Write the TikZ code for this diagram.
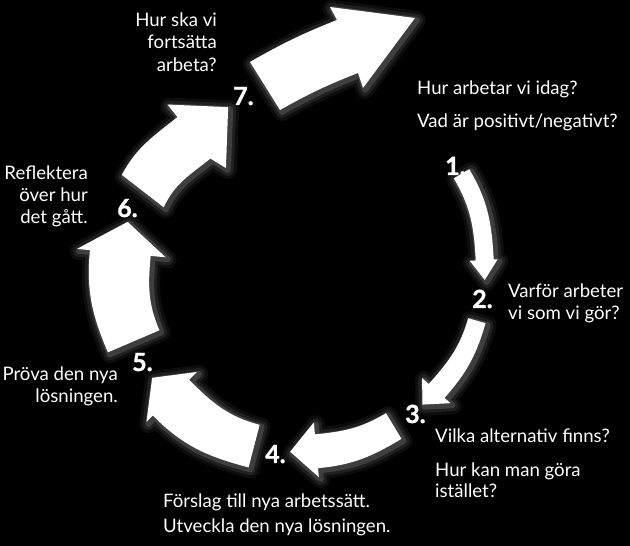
\documentclass[tikz,border=0pt]{standalone}
\usepackage{fontspec}
\setmainfont{Lato}
\newfontfamily\numfont{Lato}[BoldFeatures={FakeBold=1.2}]
\begin{document}
\begin{tikzpicture}[x=1pt,y=1pt,
  txt/.style={text=white, inner sep=0pt, font=\fontsize{18.6}{22}\selectfont},
  txtl/.style={txt, anchor=base west},
  txtr/.style={txt, anchor=base east},
  num/.style={text=white, inner sep=0pt, anchor=base west, font=\fontsize{25}{28}\numfont\bfseries},
  arrowfill/.style={fill=white, draw=none}]
\useasboundingbox (0,0) rectangle (630,546);
\fill[black] (0,0) rectangle (630,546);

\newcommand\arrowpaths[1]{%
  \begin{scope}[shift={(300,276)}]
    \path[#1] (30.8:197) to[out=-59.2,in=93.1] (3.1:194) -- (3.1:198) -- (-3.1:185) -- (3.1:170) -- (3.1:176) to[out=93.1,in=-59.2] (30.8:179) -- cycle;
    \path[#1] (-16:193) to[out=-106,in=48.5] (-41.5:193) -- (-41.5:201) -- (-47.7:182) -- (-41.5:163) -- (-41.5:172) to[out=48.5,in=-106] (-16:175) -- cycle;
    \path[#1] (-59:197) to[out=-149,in=5.2] (-84.8:199) -- (-84.8:208) -- (-93.1:182) -- (-84.8:153) -- (-84.8:165) to[out=5.2,in=-149] (-59:167) -- cycle;
    \path[#1] (-104.6:204) to[out=-194.6,in=-45.3] (-135.3:207) -- (-135.3:216) -- (-143.9:183) -- (-135.3:145) -- (-135.3:156) to[out=-45.3,in=-194.6] (-104.6:160) -- cycle;
    \path[#1] (-156.8:209) to[out=-246.8,in=-95.4] (-185.4:211) -- (-185.4:224) -- (-195.6:179) -- (-185.4:135) -- (-185.4:150) to[out=-95.4,in=-246.8] (-156.8:153) -- cycle;
    \path[#1] (151.9:202) to[out=61.9,in=-141.3] (128.7:196) -- (128.7:212) -- (113.8:178) -- (126:126) -- (128.8:143) to[out=-141.2,in=65.3] (155.3:150) -- cycle;
  \end{scope}
  \path[#1] (280,436) -- (250,484) to[bend left=4] (337,526) -- (330,539) -- (415,528) -- (363,458) -- (358,473) to[bend right=4] (280,436) -- cycle;
}

% glow
\begin{scope}[shift={(2,-2)}]
  \arrowpaths{draw=white, line width=18pt, line join=round, opacity=0.05}
  \arrowpaths{draw=white, line width=12pt, line join=round, opacity=0.08}
  \arrowpaths{draw=white, line width=6pt, line join=round, opacity=0.14}
\end{scope}
\arrowpaths{arrowfill}

% numbers
\node[num] (n1) at (445,371) {1.};
\node[num] (n2) at (472,238) {2.};
\node[num] (n3) at (405,123) {3.};
\node[num] (n4) at (265,83) {4.};
\node[num] (n5) at (132,175) {5.};
\node[num] (n6) at (117,329) {6.};
\node[num] (n7) at (233,441) {7.};

% texts
\node[txtr] (t7a) at (217,519) {Hur ska vi};
\node[txtr] (t7b) at (217,497) {fortsätta};
\node[txtr] (t7c) at (217,474) {arbeta?};

\node[txtl] (t1a) at (417,451) {Hur arbetar vi idag?};
\node[txtl] (t1b) at (417,418) {Vad är positivt/negativt?};

\node[txtl] (t2a) at (508,248) {Varför arbeter};
\node[txtl] (t2b) at (508,226) {vi som vi gör?};

\node[txtl] (t3a) at (435,103) {Vilka alternativ finns?};
\node[txtl] (t3b) at (435,69) {Hur kan man göra};
\node[txtl] (t3c) at (435,48) {istället?};

\node[txtl] (t4a) at (163,38) {Förslag till nya arbetssätt.};
\node[txtl] (t4b) at (163,13) {Utveckla den nya lösningen.};

\node[txtr] (t5a) at (118,165) {Pröva den nya};
\node[txtr] (t5b) at (118,143) {lösningen.};

\node[txtr] (t6a) at (88,366) {Reflektera};
\node[txtr] (t6b) at (88,344) {över hur};
\node[txtr] (t6c) at (88,322) {det gått.};
\end{tikzpicture}
\end{document}
